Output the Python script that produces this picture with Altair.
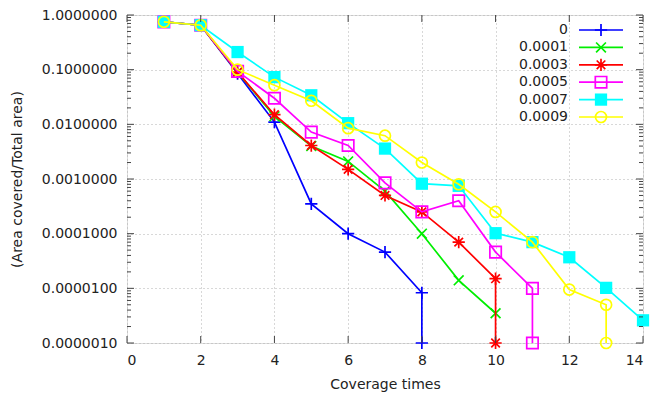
import altair as alt
import pandas as pd

series_names = ["0", "0.0001", "0.0003", "0.0005", "0.0007", "0.0009"]
colors = ["#0000ff", "#00ee00", "#ff0000", "#ff00ff", "#00ffff", "#ffff00"]

x_s0 = [1, 2, 3, 4, 5, 6, 7, 8, 8]
y_s0 = [0.75, 0.65, 0.085, 0.011, 0.00035, 0.0001, 0.000046, 0.0000083, 0.000001]

x_s1 = [1, 2, 3, 4, 5, 6, 7, 8, 9, 10]
y_s1 = [0.75, 0.65, 0.09, 0.014, 0.004, 0.0021, 0.0006, 0.0001, 0.000014, 0.0000035]

x_s3 = [1, 2, 3, 4, 5, 6, 7, 8, 9, 10, 10]
y_s3 = [0.75, 0.65, 0.09, 0.015, 0.0041, 0.0015, 0.0005, 0.00025, 0.00007, 0.000015, 0.000001]

x_s5 = [1, 2, 3, 4, 5, 6, 7, 8, 9, 10, 11, 11]
y_s5 = [0.75, 0.65, 0.093, 0.03, 0.0072, 0.0041, 0.00085, 0.00025, 0.0004, 0.000046, 0.00001, 0.000001]

x_s7 = [1, 2, 3, 4, 5, 6, 7, 8, 9, 10, 11, 12, 13, 14]
y_s7 = [0.75, 0.65, 0.21, 0.073, 0.034, 0.0105, 0.0036, 0.00082, 0.00075, 0.000102, 0.00007, 0.000037, 0.0000102, 0.0000026]

x_s9 = [1, 2, 3, 4, 5, 6, 7, 8, 9, 10, 11, 12, 13, 13]
y_s9 = [0.75, 0.65, 0.1, 0.052, 0.027, 0.0085, 0.0062, 0.002, 0.0008, 0.00025, 0.00007, 0.0000095, 0.000005, 0.000001]

xs = [x_s0, x_s1, x_s3, x_s5, x_s7, x_s9]
ys = [y_s0, y_s1, y_s3, y_s5, y_s7, y_s9]

plus = "M-1,0L1,0M0,-1L0,1"
cross = "M-0.8,-0.8L0.8,0.8M-0.8,0.8L0.8,-0.8"
star = "M-1,0L1,0M0,-1L0,1M-0.7,-0.7L0.7,0.7M-0.7,0.7L0.7,-0.7"
shapes = [plus, cross, star, "square", "square", "circle"]
filled = [False, False, False, False, True, False]
sizes = [150, 150, 150, 130, 150, 120]

y_major = [1e-6, 1e-5, 1e-4, 1e-3, 1e-2, 1e-1, 1.0]
y_minor = [m * 10 ** e for e in range(-6, 0) for m in range(2, 10)]
x_major = [0, 2, 4, 6, 8, 10, 12, 14]

W, H = 516, 328
FONT = "DejaVu Sans"

xscale = alt.Scale(domain=[0, 14], nice=False)
yscale = alt.Scale(type="log", domain=[1e-6, 1], nice=False)

x_axis = alt.Axis(values=x_major, title="Coverage times", grid=True,
                  gridDash=[1, 3], gridColor="#b0b0b0", ticks=False,
                  domain=False, labelFontSize=14, titleFontSize=14,
                  labelFont=FONT, titleFont=FONT, labelColor="#222",
                  titleColor="#222", labelPadding=10, titlePadding=10,
                  titleFontWeight="normal")
y_axis = alt.Axis(values=y_major, format=".7f", title="(Area covered/Total area)",
                  grid=True, gridDash=[1, 3], gridColor="#b0b0b0", ticks=False,
                  domain=False, labelFontSize=14, titleFontSize=14,
                  labelFont=FONT, titleFont=FONT, labelColor="#222",
                  titleColor="#222", labelPadding=10, titlePadding=17,
                  titleFontWeight="normal")

main_layers = []

for i, name in enumerate(series_names):
    df = pd.DataFrame({"x": xs[i], "y": ys[i], "o": list(range(len(xs[i])))})
    base = alt.Chart(df).encode(
        x=alt.X("x:Q", scale=xscale, axis=x_axis),
        y=alt.Y("y:Q", scale=yscale, axis=y_axis),
        order="o:Q",
    )
    main_layers.append(base.mark_line(color=colors[i], strokeWidth=1.7, clip=True))
    if filled[i]:
        pt = base.mark_point(shape=shapes[i], size=sizes[i], filled=True, fill=colors[i],
                             color=colors[i], opacity=1, clip=False)
    else:
        pt = base.mark_point(shape=shapes[i], size=sizes[i], filled=False, color=colors[i],
                             strokeWidth=1.7, opacity=1, clip=False)
    main_layers.append(pt)

# ticks (inward, mirrored)
ymaj = pd.DataFrame({"y": y_major})
ymin = pd.DataFrame({"y": y_minor})
xmaj = pd.DataFrame({"x": x_major})
tick_color = "#444444"
for xa, xb in [(0, 7), (W - 7, W)]:
    main_layers.append(alt.Chart(ymaj).mark_rule(color=tick_color, strokeWidth=1).encode(
        y=alt.Y("y:Q", scale=yscale, axis=y_axis), x=alt.value(xa), x2=alt.value(xb)))
for xa, xb in [(0, 4), (W - 4, W)]:
    main_layers.append(alt.Chart(ymin).mark_rule(color=tick_color, strokeWidth=1).encode(
        y=alt.Y("y:Q", scale=yscale, axis=y_axis), x=alt.value(xa), x2=alt.value(xb)))
for ya, yb in [(H - 7, H), (0, 7)]:
    main_layers.append(alt.Chart(xmaj).mark_rule(color=tick_color, strokeWidth=1).encode(
        x=alt.X("x:Q", scale=xscale, axis=x_axis), y=alt.value(ya), y2=alt.value(yb)))

main = alt.layer(*main_layers)

# legend (inside top right, labels left of samples)
leg = pd.DataFrame({"name": series_names, "row": list(range(len(series_names)))})
lscale = alt.Scale(domain=[0, 5], range=[15, 102])
leg_layers = [alt.Chart(leg).mark_text(align="right", baseline="middle", fontSize=14,
                                       font=FONT, color="#222").encode(
    x=alt.value(441), y=alt.Y("row:Q", scale=lscale, axis=None), text="name:N")]
for i, name in enumerate(series_names):
    one = leg[leg["name"] == name]
    leg_layers.append(alt.Chart(one).mark_rule(color=colors[i], strokeWidth=1.7).encode(
        x=alt.value(452), x2=alt.value(496), y=alt.Y("row:Q", scale=lscale, axis=None)))
    if filled[i]:
        m = alt.Chart(one).mark_point(shape=shapes[i], size=sizes[i], filled=True,
                                      fill=colors[i], color=colors[i], opacity=1)
    else:
        m = alt.Chart(one).mark_point(shape=shapes[i], size=sizes[i], filled=False,
                                      color=colors[i], strokeWidth=1.7, opacity=1)
    leg_layers.append(m.encode(x=alt.value(474), y=alt.Y("row:Q", scale=lscale, axis=None)))
legend = alt.layer(*leg_layers)

chart = alt.layer(main, legend).resolve_scale(y="independent").properties(
    width=W, height=H,
    autosize=alt.AutoSizeParams(type="none"),
    padding={"left": 127, "top": 15, "right": 11, "bottom": 54},
).configure_view(stroke="#444444", strokeWidth=1.2).configure(background="white")

chart.save("out.html", embed_options={"renderer": "svg", "actions": False})
